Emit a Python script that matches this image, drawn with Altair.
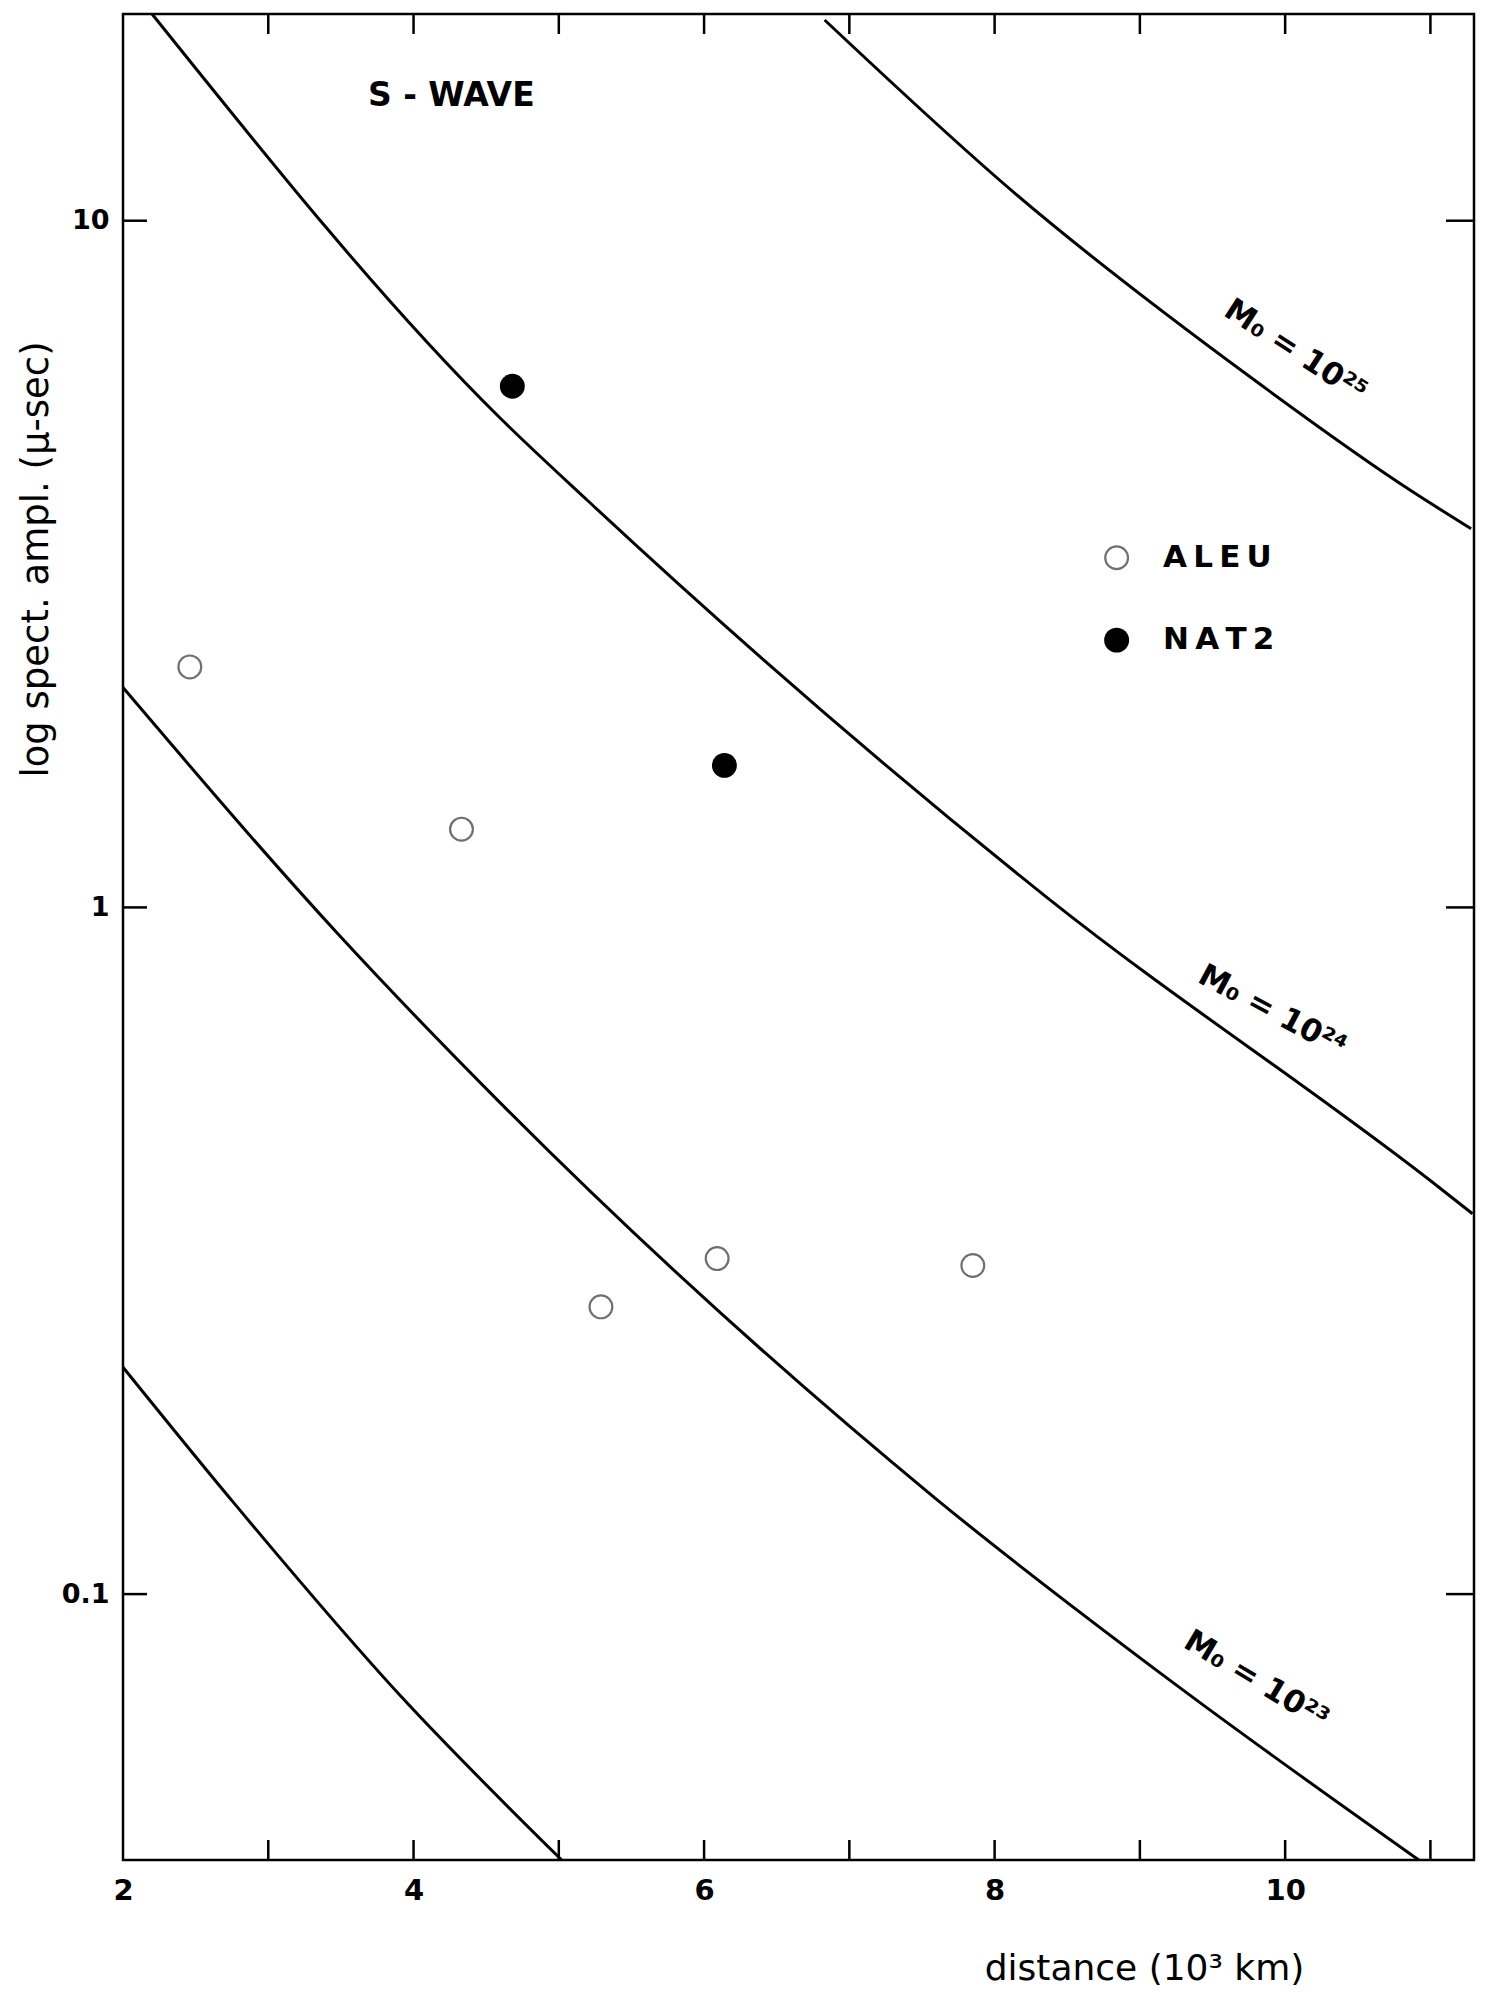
import altair as alt
import pandas as pd

# ---- data ----
# theoretical curves: distance (10^3 km) vs spectral amplitude (micro-sec)
c25_x = [6.83, 8.14, 9.76, 10.87, 11.28]
c25_y = [19.6, 10.96, 5.92, 4.04, 3.56]
c24_x = [2.20, 4.58, 5.20, 8.37, 11.06, 11.29]
c24_y = [20.0, 5.2, 3.91, 1.03, 0.391, 0.358]
c23_x = [2.00, 3.49, 4.59, 7.59, 9.27, 10.92]
c23_y = [2.09, 0.91, 0.521, 0.138, 0.0732, 0.041]
c22_x = [2.00, 2.76, 3.91, 5.02]
c22_y = [0.214, 0.136, 0.0711, 0.041]

# observations
aleu_x = [2.46, 4.33, 5.29, 6.09, 7.85]
aleu_y = [2.24, 1.30, 0.262, 0.308, 0.301]
nat2_x = [4.68, 6.14]
nat2_y = [5.74, 1.61]

# curve labels
label_text = ["M\u2080 = 10\u00b2\u2075", "M\u2080 = 10\u00b2\u2074", "M\u2080 = 10\u00b2\u00b3"]
label_x = [10.07, 9.91, 9.80]
label_y = [6.45, 0.705, 0.0748]
label_angle = [33, 28, 31]

x_ticks = [3, 4, 5, 6, 7, 8, 9, 10, 11]
x_labels = [2, 4, 6, 8, 10]
y_ticks = [0.1, 1, 10]

# ---- layout ----
W, H = 1351, 1846
FONT = "DejaVu Sans"

rows = []
for name, xs_, ys_ in [("25", c25_x, c25_y), ("24", c24_x, c24_y),
                       ("23", c23_x, c23_y), ("22", c22_x, c22_y)]:
    for i, (a, b) in enumerate(zip(xs_, ys_)):
        rows.append({"curve": name, "i": i, "x": a, "y": b})
curves = pd.DataFrame(rows)
aleu = pd.DataFrame({"x": aleu_x, "y": aleu_y})
nat2 = pd.DataFrame({"x": nat2_x, "y": nat2_y})

xs = alt.Scale(domain=[2, 11.3], nice=False, zero=False)
ys = alt.Scale(type="log", domain=[0.041, 20], nice=False)

x_axis = alt.Axis(values=x_labels, ticks=False, domain=False, grid=False,
                  labelFont=FONT, labelFontSize=29, labelFontWeight="bold",
                  labelColor="black", labelPadding=16, labelFlush=False,
                  title="distance (10\u00b3 km)", titleFont=FONT, titleFontSize=36,
                  titleFontWeight="normal", titleColor="black",
                  titleX=1021, titleY=119, titleAlign="center",
                  titleBaseline="alphabetic")
y_axis = alt.Axis(values=y_ticks, format="~g", ticks=False, domain=False, grid=False,
                  labelFont=FONT, labelFontSize=27, labelFontWeight="bold",
                  labelColor="black", labelPadding=14, labelFlush=False,
                  title="log spect. ampl. (\u03bc-sec)", titleFont=FONT,
                  titleFontSize=37, titleFontWeight="normal", titleColor="black",
                  titleAngle=270, titleX=-87, titleY=545, titleAlign="center",
                  titleBaseline="middle")


def X(field):
    return alt.X(field, scale=xs, axis=x_axis)


def Y(field):
    return alt.Y(field, scale=ys, axis=y_axis)


lines = alt.Chart(curves).mark_line(color="black", strokeWidth=3,
                                    interpolate="monotone").encode(
    x=X("x:Q"), y=Y("y:Q"), detail="curve:N", order="i:Q")

aleu_pts = alt.Chart(aleu).mark_point(shape="circle", filled=False, color="#707070",
                                      strokeWidth=2.2, size=520, opacity=1).encode(
    x=X("x:Q"), y=Y("y:Q"))
nat2_pts = alt.Chart(nat2).mark_point(shape="circle", filled=True, color="black",
                                      size=620, opacity=1).encode(
    x=X("x:Q"), y=Y("y:Q"))

# frame ticks (inward)
tick_df = pd.DataFrame({"t": x_ticks})
ytick_df = pd.DataFrame({"t": y_ticks})
bot_ticks = alt.Chart(tick_df).mark_rule(color="black", strokeWidth=2.5).encode(
    x=X("t:Q"), y=alt.value(H), y2=alt.value(H - 20))
top_ticks = alt.Chart(tick_df).mark_rule(color="black", strokeWidth=2.5).encode(
    x=X("t:Q"), y=alt.value(0), y2=alt.value(20))
left_ticks = alt.Chart(ytick_df).mark_rule(color="black", strokeWidth=2.5).encode(
    y=Y("t:Q"), x=alt.value(0), x2=alt.value(24))
right_ticks = alt.Chart(ytick_df).mark_rule(color="black", strokeWidth=2.5).encode(
    y=Y("t:Q"), x=alt.value(W), x2=alt.value(W - 28))

# curve labels
label_layers = []
for t, lx, ly, ang in zip(label_text, label_x, label_y, label_angle):
    d = pd.DataFrame({"x": [lx], "y": [ly], "t": [t]})
    label_layers.append(
        alt.Chart(d).mark_text(font=FONT, fontSize=31, fontWeight="bold", angle=ang,
                               align="center", baseline="middle", color="black").encode(
            x=X("x:Q"), y=Y("y:Q"), text="t:N"))

# title annotation
title_df = pd.DataFrame({"x": [4.26], "y": [15.2], "t": ["S - WAVE"]})
title_txt = alt.Chart(title_df).mark_text(font=FONT, fontSize=33, fontWeight="bold",
                                          align="center", baseline="middle",
                                          color="black").encode(
    x=X("x:Q"), y=Y("y:Q"), text="t:N")

# legend (drawn inside the plot)
leg_names = ["A\u2009L\u2009E\u2009U", "N\u2009A\u2009T\u20092"]
leg_df = pd.DataFrame({"x": [8.84, 8.84], "y": [3.23, 2.45], "t": leg_names,
                       "tx": [9.16, 9.16]})
leg_open = alt.Chart(leg_df.iloc[[0]]).mark_point(shape="circle", filled=False,
                                                  color="#707070", strokeWidth=2.2,
                                                  size=520, opacity=1).encode(
    x=X("x:Q"), y=Y("y:Q"))
leg_fill = alt.Chart(leg_df.iloc[[1]]).mark_point(shape="circle", filled=True,
                                                  color="black", size=620,
                                                  opacity=1).encode(
    x=X("x:Q"), y=Y("y:Q"))
leg_txt = alt.Chart(leg_df).mark_text(font=FONT, fontSize=31, fontWeight="bold",
                                      align="left", baseline="middle",
                                      color="black").encode(
    x=X("tx:Q"), y=Y("y:Q"), text="t:N")

chart = alt.layer(
    lines, aleu_pts, nat2_pts, bot_ticks, top_ticks, left_ticks, right_ticks,
    *label_layers, title_txt, leg_open, leg_fill, leg_txt
).properties(
    width=W, height=H,
    autosize=alt.AutoSizeParams(type="none"),
    padding={"left": 123, "top": 14, "right": 18, "bottom": 132},
    background="white",
).configure_view(stroke="black", strokeWidth=2.5)

chart.save("out.html", embed_options={"renderer": "svg", "actions": False})
